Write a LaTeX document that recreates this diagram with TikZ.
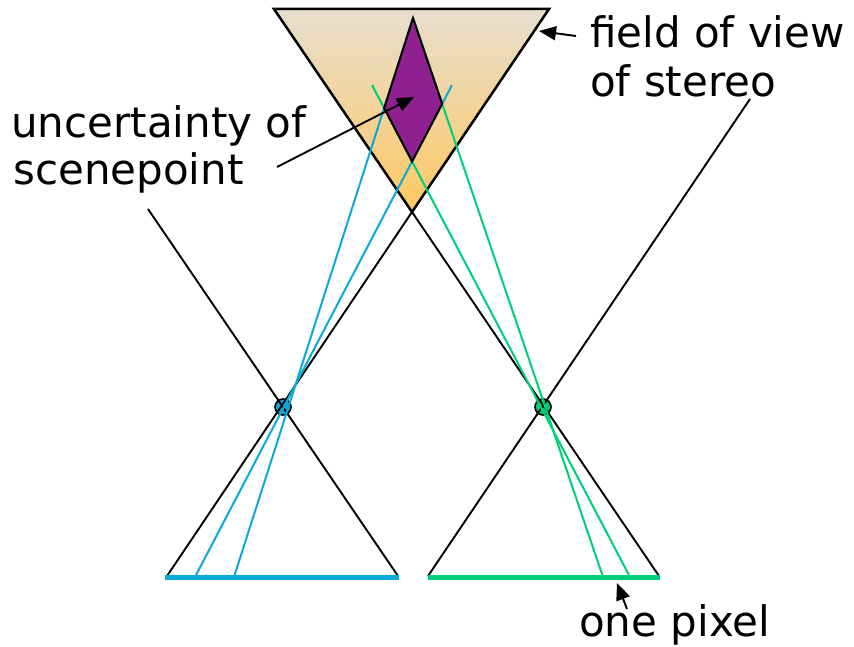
\documentclass[tikz,border=0pt]{standalone}
\usepackage{fontspec}
\setmainfont{DejaVu Sans}
\usetikzlibrary{calc,arrows.meta}
\definecolor{fovtop}{RGB}{232,222,207}
\definecolor{fovbot}{RGB}{254,200,98}
\definecolor{diampurple}{RGB}{142,32,144}
\definecolor{camblue}{RGB}{10,170,216}
\definecolor{camgreen}{RGB}{0,206,120}
\begin{document}
\begin{tikzpicture}[x=1bp,y=-1bp,
  blackray/.style={line width=1.9bp,black},
  blueray/.style={line width=2bp,camblue},
  greenray/.style={line width=2bp,camgreen},
  sensor/.style={line width=5bp},
  cam/.style={circle,draw=black,line width=1.6bp,inner sep=0pt,minimum size=16bp},
  lbl/.style={anchor=base west,inner sep=0pt,font=\fontsize{42bp}{50bp}\selectfont},
  arr/.style={line width=1.9bp,-{Triangle[length=17bp,width=14bp]}}]
\useasboundingbox (0,0) rectangle (854,647);
% key points
\coordinate (A) at (412,212);
\coordinate (T1) at (274,9);
\coordinate (T2) at (549,9);
\coordinate (C1) at (283,407);
\coordinate (C2) at (543,407);
\coordinate (LL) at (167,576);
\coordinate (LR) at (398,576);
\coordinate (RL) at (428,576);
\coordinate (RR) at (659,576);
\coordinate (E1) at (148,209);
\coordinate (E2) at (750,99);
\coordinate (S1a) at (165,577);
\coordinate (S1b) at (399,577);
\coordinate (S2a) at (428,577);
\coordinate (S2b) at (660,577);
\coordinate (D) at (413,18);
\coordinate (Bt) at (452,85);
\coordinate (Bf) at (195,577);
\coordinate (B2f) at (234,577);
\coordinate (Gt) at (372,85);
\coordinate (Gf) at (603,577);
\coordinate (G2f) at (630,577);
% field of view triangle
\shade[top color=fovtop,bottom color=fovbot] (T1) -- (T2) -- (A) -- cycle;
\draw[line width=2.5bp,line join=miter] (T1) -- (T2) -- (A) -- cycle;
% camera centres
\node[cam,fill=camblue] (cam1) at (C1) {};
\node[cam,fill=camgreen] (cam2) at (C2) {};
% black rays
\draw[blackray] (LL) -- (A);
\draw[blackray] (RR) -- (A);
\draw[blackray] (LR) -- (E1);
\draw[blackray] (RL) -- (E2);
% pixel rays
\draw[blueray] (Bf) -- (Bt);
\draw[blueray] (B2f) -- (D);
\draw[greenray] (Gf) -- (D);
\draw[greenray] (G2f) -- (Gt);
% sensors
\draw[sensor,camblue] (S1a) -- (S1b);
\draw[sensor,camgreen] (S2a) -- (S2b);
% uncertainty region
\draw[line width=2bp,fill=diampurple,line join=miter]
  (D) -- (intersection of D--B2f and Gt--G2f)
  -- (intersection of Bt--Bf and Gt--G2f)
  -- (intersection of Bt--Bf and D--Gf) -- cycle;
% labels
\node[lbl] (unc1) at (11,138) {uncertainty of};
\node[lbl] (unc2) at (13,185) {scenepoint};
\node[lbl] (fov1) at (590,48) {field of view};
\node[lbl] (fov2) at (590,97) {of stereo};
\node[lbl] (pix) at (579,636) {one pixel};
% label arrows
\coordinate (unctail) at (277,167);
\coordinate (unctip) at (414,97);
\coordinate (fovtail) at (576,36);
\coordinate (fovtip) at (539,31);
\coordinate (pixtail) at (627,609);
\coordinate (pixtip) at (617,583);
\draw[arr] (unctail) -- (unctip);
\draw[arr] (fovtail) -- (fovtip);
\draw[arr] (pixtail) -- (pixtip);
\end{tikzpicture}
\end{document}
